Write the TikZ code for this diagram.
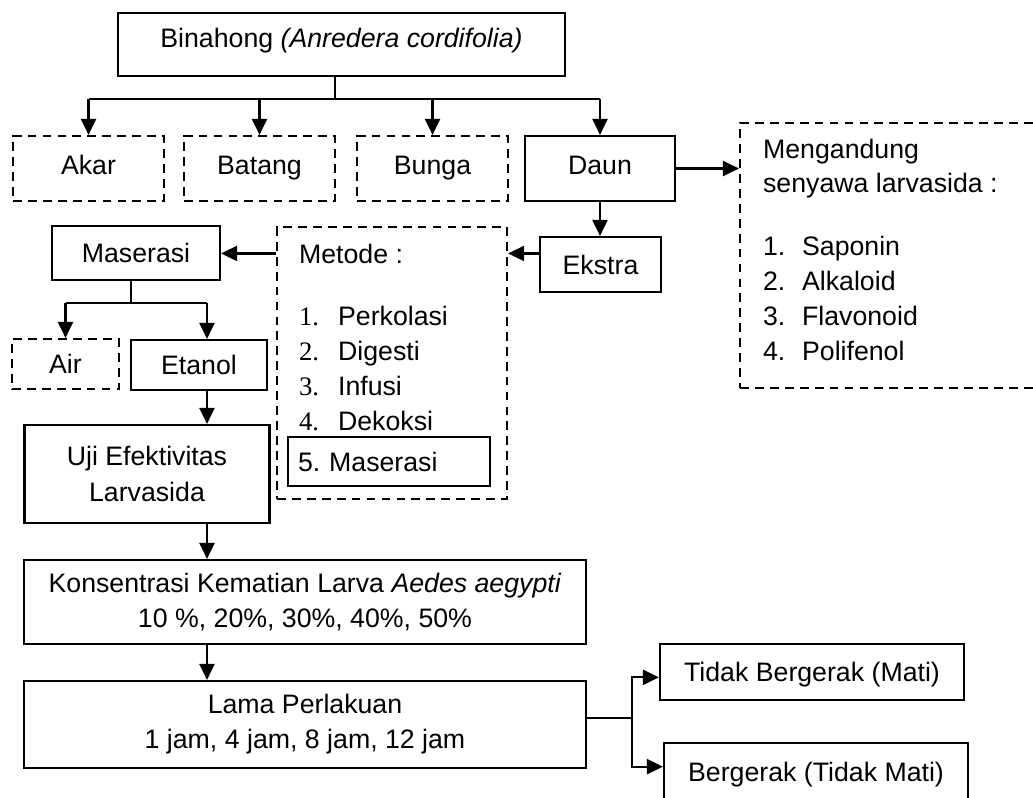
\documentclass[tikz,border=0pt]{standalone}
\usepackage{fontspec}
\setmainfont{Liberation Sans}
\newfontfamily\numserif{Liberation Serif}
\usetikzlibrary{arrows.meta}

\begin{document}
\begin{tikzpicture}[x=0.02cm,y=-0.02cm,
        font={\fontsize{15.2pt}{20pt}\selectfont},
        line width=1.25pt,
        box/.style={draw,inner sep=0pt,align=center},
        dashbox/.style={box,dash pattern=on 5pt off 3.5pt},
        oneline/.style={text height=11pt,text depth=0pt},
        part/.style={oneline,text depth=4.5pt,minimum width=3.02cm,minimum height=1.3cm},
        item/.style={anchor=base west,inner sep=0pt},
        arr/.style={-{Triangle[length=0.32cm,width=0.3cm]}}]
        \useasboundingbox (0,0) rectangle (1033,797);
        \clip (0,0) rectangle (1033,797);
        % Plant
        \node[box,oneline,text depth=7.5pt,minimum width=8.94cm,minimum height=1.26cm] (bin) at (341.5,44.5) {Binahong \textit{(Anredera cordifolia)}};
        % Parts of the plant
        \node[dashbox,part] (akar) at (88.5,168.5) {Akar};
        \node[dashbox,part] (batang) at (259.5,168.5) {Batang};
        \node[dashbox,part] (bunga) at (432.5,168.5) {Bunga};
        \node[box,part,minimum width=3cm] (daun) at (600,168.5) {Daun};
        % Content of the leaves (box runs past the right edge)
        \node[dashbox,minimum width=6.4cm,minimum height=5.3cm] (kandungan) at (900,255.5) {};
        \node[item] (k0) at (762,159) {Mengandung};
        \node[item] (k1) at (762,193) {senyawa larvasida :};
        \node[item] (k2) at (762,255) {\makebox[0.78cm][l]{1.}Saponin};
        \node[item] (k3) at (762,290) {\makebox[0.78cm][l]{2.}Alkaloid};
        \node[item] (k4) at (762,325) {\makebox[0.78cm][l]{3.}Flavonoid};
        \node[item] (k5) at (762,360) {\makebox[0.78cm][l]{4.}Polifenol};
        % Extraction
        \node[box,oneline,minimum width=2.42cm,minimum height=1.1cm] (ekstra) at (600.5,264.5) {Ekstra};
        \node[dashbox,minimum width=4.6cm,minimum height=5.44cm] (metode) at (392,363) {};
        \node[item] (mt) at (298,263) {Metode :};
        \node[item] (m1) at (298,325) {\makebox[0.78cm][l]{\numserif 1.}Perkolasi};
        \node[item] (m2) at (298,360) {\makebox[0.78cm][l]{\numserif 2.}Digesti};
        \node[item] (m3) at (298,395) {\makebox[0.78cm][l]{\numserif 3.}Infusi};
        \node[item] (m4) at (298,430) {\makebox[0.78cm][l]{\numserif 4.}Dekoksi};
        \node[box,oneline,align=left,text width=3.64cm,inner xsep=0.2cm,minimum height=0.98cm] (m5) at (389,461.5) {5.~Maserasi};
        % Maceration and solvent
        \node[box,oneline,minimum width=3.36cm,minimum height=1.08cm] (maserasi) at (136,253) {Maserasi};
        \node[dashbox,oneline,minimum width=2.14cm,minimum height=1cm] (air) at (65.5,364) {Air};
        \node[box,oneline,minimum width=2.72cm,minimum height=1cm] (etanol) at (199,365) {Etanol};
        % Test and treatment
        \node[box,minimum width=4.9cm,minimum height=1.96cm] (uji) at (147,474) {Uji Efektivitas\\Larvasida};
        \node[box,minimum width=11.24cm,minimum height=1.68cm] (kons) at (305,602) {Konsentrasi Kematian Larva \textit{Aedes aegypti}\\10 \%, 20\%, 30\%, 40\%, 50\%};
        \node[box,minimum width=11.24cm,minimum height=1.74cm] (lama) at (305,724.5) {Lama Perlakuan\\1 jam, 4 jam, 8 jam, 12 jam};
        % Outcome
        \node[box,oneline,minimum width=6.08cm,minimum height=1.12cm] (tidak) at (812,672) {Tidak Bergerak (Mati)};
        \node[box,oneline,minimum width=6.08cm,minimum height=1.16cm] (gerak) at (816,772) {Bergerak (Tidak Mati)};

        % Connectors
        \coordinate (trunk) at (335,99);
        \draw (trunk |- bin.south) -- (trunk);
        \draw (akar.north |- trunk) -- (daun.north |- trunk);
        \draw[arr] (akar.north |- trunk) -- (akar.north);
        \draw[arr] (batang.north |- trunk) -- (batang.north);
        \draw[arr] (bunga.north |- trunk) -- (bunga.north);
        \draw[arr] (daun.north |- trunk) -- (daun.north);
        \draw[arr] (daun.east) -- (daun.east -| kandungan.west);
        \draw[arr] (daun.south) -- (daun.south |- ekstra.north);
        \draw[arr] (ekstra.west |- mt) -- (metode.east |- mt);
        \draw[arr] (metode.west |- mt) -- (maserasi.east |- mt);
        \coordinate (split) at (131,303);
        \coordinate (col) at (207,303);
        \draw (split |- maserasi.south) -- (split);
        \draw (air.north |- split) -- (col);
        \draw[arr] (air.north |- split) -- (air.north);
        \draw[arr] (col) -- (col |- etanol.north);
        \draw[arr] (col |- etanol.south) -- (col |- uji.north);
        \draw[arr] (col |- uji.south) -- (col |- kons.north);
        \draw[arr] (col |- kons.south) -- (col |- lama.north);
        \coordinate (fork) at (632,718);
        \draw (lama.east |- fork) -- (fork);
        \draw[arr] (fork) |- (tidak.182);
        \draw[arr] (fork) |- (gerak.178);
\end{tikzpicture}
\end{document}
